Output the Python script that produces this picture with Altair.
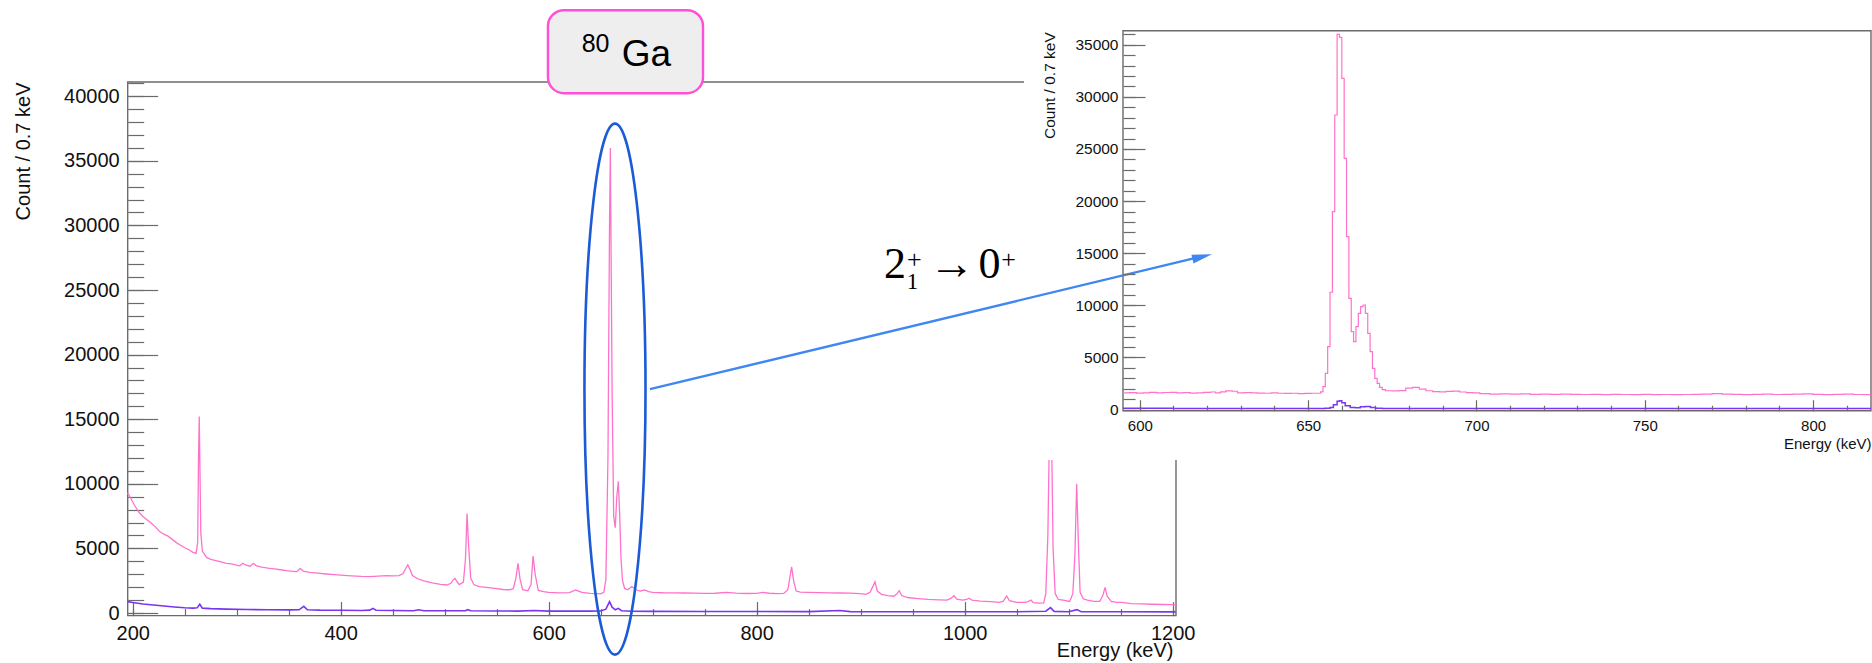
import altair as alt
import pandas as pd

# ---------------------------------------------------------------
# 80Ga gamma-ray spectrum: counts per 0.7 keV vs. energy (keV)
# ---------------------------------------------------------------

# Full range, total spectrum (pink)
main_pink_e = [195, 198, 202, 206, 210, 214, 218, 222, 226, 230, 234, 238, 242, 246, 250,
               254, 258, 261, 262.5, 263.3, 264, 264.7, 265.5, 267, 271, 275, 280, 285, 290,
               295, 300, 303, 306, 309, 313, 316, 319, 324, 330, 336, 342, 348, 354, 358,
               361, 364, 370, 378, 386, 394, 400, 410, 420, 428, 436, 444, 450, 456, 460,
               462.5, 464.5, 466.5, 469, 474, 480, 488, 496, 502, 506, 508, 510, 512, 514,
               518, 520, 521.5, 523, 525, 528, 533, 540, 548, 556, 562, 566, 568.5, 570.5,
               572.5, 575, 580, 583, 585, 587, 590, 595, 600, 610, 620, 626, 632, 640, 646,
               650, 653, 655, 657, 658.5, 659.3, 660, 661, 662.5, 664, 665.5, 667, 668.3,
               669.5, 671, 673, 676, 680, 684, 688, 692, 696, 700, 710, 720, 730, 740, 750,
               760, 771, 780, 790, 800, 806, 812, 820, 826, 830, 832, 833.6, 835.5, 838, 842,
               850, 860, 870, 880, 890, 899, 905, 909, 912, 913.8, 916, 920, 926, 932, 935,
               937, 939.5, 945, 955, 965, 975, 983, 987, 989.7, 992.5, 998, 1002, 1004, 1007,
               1015, 1025, 1033, 1037, 1040.4, 1043, 1050, 1058, 1061, 1063.8, 1066, 1072,
               1076, 1078, 1080, 1081.5, 1082.5, 1083.5, 1085, 1087, 1090, 1096, 1101, 1104,
               1106, 1107.7, 1109.5, 1111, 1114, 1118, 1124, 1130, 1133, 1135, 1137, 1141,
               1146, 1151, 1155, 1160, 1170, 1180, 1190, 1200, 1203]
main_pink_c = [9300, 8900, 8300, 7800, 7450, 7200, 6950, 6650, 6300, 6100, 5950, 5700, 5450,
               5250, 5050, 4900, 4700, 4620, 5500, 12000, 15200, 11000, 6200, 4800, 4300, 4150,
               4050, 3950, 3850, 3800, 3700, 3650, 3850, 3700, 3620, 3850, 3650, 3560, 3480,
               3420, 3350, 3280, 3230, 3200, 3450, 3250, 3150, 3080, 3020, 2970, 2940, 2880,
               2830, 2810, 2850, 2900, 2880, 2900, 3050, 3450, 3720, 3400, 2900, 2650, 2480,
               2330, 2220, 2170, 2300, 2550, 2680, 2400, 2200, 2400, 4200, 7700, 5200, 2700,
               2200, 2050, 1980, 1900, 1820, 1800, 1880, 2700, 3840, 2600, 1800, 1720, 2200,
               4400, 3000, 1750, 1650, 1600, 1560, 1580, 1780, 1600, 1520, 1500, 1480, 1600,
               2600, 12000, 30000, 36000, 28000, 17000, 7500, 6600, 9000, 10200, 7500, 4300,
               2500, 1900, 1800, 2050, 1800, 1700, 1780, 1650, 1600, 1570, 1560, 1550, 1540,
               1520, 1530, 1600, 1540, 1510, 1520, 1600, 1530, 1500, 1520, 1800, 2800, 3580,
               2500, 1700, 1620, 1600, 1580, 1560, 1550, 1540, 1500, 1450, 1600, 2100, 2420,
               1700, 1450, 1350, 1300, 1500, 1725, 1350, 1200, 1120, 1050, 1020, 1000, 1150,
               1340, 1080, 1000, 1050, 1140, 1000, 920, 880, 830, 900, 1315, 950, 820, 820,
               880, 1006, 800, 760, 780, 1500, 6000, 14000, 19000, 14000, 5000, 1500, 1050,
               980, 900, 1500, 4500, 10000, 5000, 1600, 1100, 1000, 900, 900, 1400, 1990,
               1300, 900, 820, 830, 780, 720, 700, 680, 660, 650, 640]

# Full range, second spectrum (purple)
main_purple_e = [195, 200, 210, 220, 230, 240, 250, 258, 262, 264.5, 267, 275, 290, 310, 330,
                 350, 360, 364.5, 368, 380, 400, 420, 428, 431, 434, 450, 470, 475, 480, 500,
                 520, 522, 525, 550, 570, 586, 600, 620, 640, 650, 655, 658.5, 661, 664, 667,
                 670, 680, 700, 750, 800, 850, 880, 890, 950, 1000, 1050, 1078, 1082.5, 1086,
                 1100, 1108, 1112, 1150, 1203]
main_purple_c = [880, 820, 700, 620, 540, 470, 410, 380, 400, 680, 380, 340, 300, 270, 250,
                 240, 250, 520, 250, 220, 210, 200, 220, 360, 210, 190, 180, 250, 180, 170,
                 170, 260, 170, 160, 150, 190, 150, 150, 150, 160, 300, 880, 450, 250, 360,
                 180, 140, 130, 120, 115, 110, 200, 110, 100, 100, 100, 140, 420, 130, 100,
                 260, 100, 100, 90]

# Zoom on the 2+ -> 0+ transition (pink, histogram bins)
inset_pink_e = [595, 597, 599, 601, 603, 605, 607, 609, 611, 613, 615, 617, 619, 621, 622.5,
                624, 625.5, 627.5, 629, 631, 633, 635, 637, 639, 641, 643, 645, 647, 649, 651,
                653.0, 653.7, 654.4, 655.1, 655.8, 656.5, 657.2, 657.9, 658.6, 659.3, 660.0,
                660.7, 661.4, 662.1, 662.8, 663.5, 664.2, 664.9, 665.6, 666.3, 667.0, 667.7,
                668.4, 669.1, 669.8, 670.5, 671.2, 672.0, 673, 675, 677, 679, 681, 683, 685,
                687, 689, 691, 693, 695, 697, 699, 701, 704, 707, 710, 713, 716, 719, 722, 725,
                728, 731, 734, 737, 740, 743, 746, 749, 752, 755, 758, 761, 764, 767, 770, 773,
                776, 779, 782, 785, 788, 791, 794, 797, 800, 803, 806, 809, 812, 815, 817.2]
inset_pink_c = [1600, 1620, 1580, 1600, 1650, 1600, 1630, 1650, 1600, 1620, 1580, 1600, 1640,
                1680, 1600, 1700, 1780, 1750, 1600, 1620, 1600, 1580, 1560, 1600, 1560, 1540,
                1560, 1520, 1550, 1560, 1560, 1700, 2200, 3470, 6030, 11250, 18980, 28260,
                36000, 35700, 31780, 24100, 16590, 10670, 7470, 6510, 7950, 9230, 9870, 10030,
                9230, 7310, 5550, 3950, 2990, 2510, 2130, 1900, 1800, 1780, 1820, 2050, 2130,
                1950, 1800, 1720, 1700, 1740, 1760, 1680, 1620, 1600, 1520, 1480, 1500, 1470,
                1490, 1460, 1480, 1450, 1470, 1450, 1440, 1460, 1430, 1450, 1440, 1420, 1450,
                1430, 1440, 1420, 1440, 1450, 1480, 1520, 1480, 1450, 1430, 1450, 1470, 1440,
                1460, 1480, 1500, 1460, 1430, 1450, 1480, 1440, 1430, 1430]

# Zoom on the 2+ -> 0+ transition (purple, histogram bins)
inset_purple_e = [595, 610, 630, 645, 655, 656.5, 657.5, 658.6, 659.3, 660.0, 661, 662.5, 664,
                  665.5, 667, 668.5, 670, 672, 690, 720, 760, 800, 817.2]
inset_purple_c = [110, 100, 105, 100, 110, 200, 450, 800, 850, 650, 350, 200, 180, 260, 280,
                  200, 120, 100, 100, 95, 95, 90, 90]

# Axis tick values
main_x_major = [200, 400, 600, 800, 1000, 1200]
main_x_minor = list(range(200, 1201, 50))
main_y_major = list(range(0, 40001, 5000))
main_y_minor = list(range(0, 41001, 1000))
inset_x_major = [600, 650, 700, 750, 800]
inset_x_minor = list(range(600, 811, 10))
inset_y_major = list(range(0, 35001, 5000))
inset_y_minor = list(range(0, 36001, 1000))

# ---------------------------------------------------------------
# Page geometry (pixels) of the two frames
# ---------------------------------------------------------------
W, H = 1872, 663
MAIN_XD, MAIN_XR = [195.2, 1203.2], [127.7, 1176]
MAIN_YD, MAIN_YR = [-200, 41100], [615.6, 82]
INS_XD, INS_XR = [595, 817.2], [1123, 1871]
INS_YD, INS_YR = [-115, 36350], [410.7, 30.7]

SANS = "Liberation Sans, Arial, Helvetica, sans-serif"
SERIF = "Liberation Serif, DejaVu Serif, serif"
GRAY = "#6b6b6b"
PINK = "#ff72cc"
PURPLE = "#7b35f0"
INK = "#111111"


def sc(dom, rng):
    return alt.Scale(domain=dom, range=rng, nice=False, zero=False)


def main_x(field, axis=None):
    if axis is None:
        return alt.X(field, type="quantitative", scale=sc(MAIN_XD, MAIN_XR), axis=None)
    return alt.X(field, type="quantitative", scale=sc(MAIN_XD, MAIN_XR), axis=axis)


def main_y(field, axis=None):
    if axis is None:
        return alt.Y(field, type="quantitative", scale=sc(MAIN_YD, MAIN_YR), axis=None)
    return alt.Y(field, type="quantitative", scale=sc(MAIN_YD, MAIN_YR), axis=axis)


def ins_x(field, axis=None):
    if axis is None:
        return alt.X(field, type="quantitative", scale=sc(INS_XD, INS_XR), axis=None)
    return alt.X(field, type="quantitative", scale=sc(INS_XD, INS_XR), axis=axis)


def ins_y(field, axis=None):
    if axis is None:
        return alt.Y(field, type="quantitative", scale=sc(INS_YD, INS_YR), axis=None)
    return alt.Y(field, type="quantitative", scale=sc(INS_YD, INS_YR), axis=axis)


def label_axis(orient, offset, values, size, pad, title, title_x, title_y, angle, align,
               baseline, z):
    return alt.Axis(orient=orient, offset=offset, values=values, ticks=False, domain=False,
                    grid=False, labelPadding=pad, labelFontSize=size, labelFont=SANS,
                    labelColor=INK, labelFlush=False, labelOverlap=False, format="d",
                    title=title, titleX=title_x, titleY=title_y, titleAngle=angle,
                    titleAlign=align, titleBaseline=baseline, titleFontSize=size,
                    titleFont=SANS, titleFontWeight="normal", titleColor=INK, zindex=z)


def tick_axis(orient, offset, values, length, z):
    return alt.Axis(orient=orient, offset=offset, values=values, labels=False, domain=False,
                    grid=False, tickSize=length, tickColor=GRAY, tickWidth=1.2, title=None,
                    zindex=z)


# ---------------------------------------------------------------
# Main panel
# ---------------------------------------------------------------
main_pink = pd.DataFrame({"e": main_pink_e, "c": main_pink_c})
main_purple = pd.DataFrame({"e": main_purple_e, "c": main_purple_c})
main_box = pd.DataFrame({"x0": [MAIN_XD[0]], "x1": [MAIN_XD[1]],
                         "y0": [MAIN_YD[0]], "y1": [MAIN_YD[1]]})

main_frame = alt.Chart(main_box).mark_rect(fillOpacity=0, stroke=GRAY, strokeWidth=1.4).encode(
    x=main_x("x0", label_axis("bottom", MAIN_YR[0] - H, main_x_major, 20, 8, "Energy (keV)",
                              1173, 41, 0, "right", "alphabetic", 0)),
    x2="x1:Q",
    y=main_y("y0", label_axis("left", -MAIN_XR[0], main_y_major, 20, 8.5, "Count / 0.7 keV",
                              23 - MAIN_XR[0], 82, 270, "right", "middle", 0)),
    y2="y1:Q",
)

main_pink_line = alt.Chart(main_pink).mark_line(color=PINK, strokeWidth=1.3).encode(
    x=main_x("e", tick_axis("top", -MAIN_YR[0], main_x_major, 14, 0)),
    y=main_y("c", tick_axis("right", MAIN_XR[0] - W, main_y_major, 30, 0)),
    order="e:Q",
)

main_purple_line = alt.Chart(main_purple).mark_line(color=PURPLE, strokeWidth=1.6).encode(
    x=main_x("e", tick_axis("top", -MAIN_YR[0], main_x_minor, 7, 0)),
    y=main_y("c", tick_axis("right", MAIN_XR[0] - W, main_y_minor, 16, 0)),
    order="e:Q",
)

# Ellipse around the 659 keV line
ellipse_df = pd.DataFrame({"e": [663.75], "c": [17330]})
ellipse = alt.Chart(ellipse_df).mark_point(
    shape="M0,-1 A0.115,1 0 1,1 0,1 A0.115,1 0 1,1 0,-1 Z",
    size=282000, filled=False, stroke="#1b5bd6", strokeWidth=2.6, opacity=1,
).encode(x=main_x("e"), y=main_y("c"))

# ---------------------------------------------------------------
# Inset panel
# ---------------------------------------------------------------
inset_pink = pd.DataFrame({"e": inset_pink_e, "c": inset_pink_c})
inset_purple = pd.DataFrame({"e": inset_purple_e, "c": inset_purple_c})
inset_bg_df = pd.DataFrame({"x0": [565.6], "x1": [817.5], "y0": [-4850], "y1": [39300]})
inset_box = pd.DataFrame({"x0": [INS_XD[0]], "x1": [INS_XD[1]],
                          "y0": [INS_YD[0]], "y1": [INS_YD[1]]})

inset_bg = alt.Chart(inset_bg_df).mark_rect(fill="white").encode(
    x=ins_x("x0"), x2="x1:Q", y=ins_y("y0"), y2="y1:Q")

inset_frame = alt.Chart(inset_box).mark_rect(fillOpacity=0, stroke=GRAY, strokeWidth=1.4).encode(
    x=ins_x("x0", label_axis("bottom", INS_YR[0] - H, inset_x_major, 15, 8, "Energy (keV)",
                             1871, 38, 0, "right", "alphabetic", 1)),
    x2="x1:Q",
    y=ins_y("y0", label_axis("left", -INS_XR[0], inset_y_major, 15.5, 5, "Count / 0.7 keV",
                             1049 - INS_XR[0], 31.7, 270, "right", "middle", 1)),
    y2="y1:Q",
)

inset_pink_line = alt.Chart(inset_pink).mark_line(
    color=PINK, strokeWidth=1.2, interpolate="step-after").encode(
    x=ins_x("e", tick_axis("top", -INS_YR[0], inset_x_major, 11, 1)),
    y=ins_y("c", tick_axis("right", INS_XR[0] - W, inset_y_major, 22, 1)),
    order="e:Q",
)

inset_purple_line = alt.Chart(inset_purple).mark_line(
    color=PURPLE, strokeWidth=1.5, interpolate="step-after").encode(
    x=ins_x("e", tick_axis("top", -INS_YR[0], inset_x_minor, 5.5, 1)),
    y=ins_y("c", tick_axis("right", INS_XR[0] - W, inset_y_minor, 12, 1)),
    order="e:Q",
)

# ---------------------------------------------------------------
# Annotations (placed in the main panel's energy / count units)
# ---------------------------------------------------------------
arrow_df = pd.DataFrame({"e0": [697.4], "c0": [17330], "e1": [1228.2], "c1": [27600]})
arrow_line = alt.Chart(arrow_df).mark_rule(color="#3e87f2", strokeWidth=2.4).encode(
    x=main_x("e0"), y=main_y("c0"), x2="e1:Q", y2="c1:Q")

head_df = pd.DataFrame({"e": [1228.4], "c": [27580]})
arrow_head = alt.Chart(head_df).mark_point(
    shape="M-1,-0.45 L1,0 L-1,0.45 Z", size=400, filled=True, color="#3e87f2",
    opacity=1, angle=346.5,
).encode(x=main_x("e"), y=main_y("c"))

tag_df = pd.DataFrame({"x0": [599.3], "x1": [748.4], "y0": [40232], "y1": [46654]})
tag_box = alt.Chart(tag_df).mark_rect(
    fill="#eeeeee", stroke="#ff4fd8", strokeWidth=2.4, cornerRadius=16,
).encode(x=main_x("x0"), x2="x1:Q", y=main_y("y0"), y2="y1:Q")


def label(text, e, c, size, font, align="left", baseline="alphabetic"):
    df = pd.DataFrame({"e": [e], "c": [c], "t": [text]})
    return alt.Chart(df).mark_text(
        fontSize=size, font=font, color="black", align=align, baseline=baseline,
    ).encode(x=main_x("e"), y=main_y("c"), text="t:N")


tag_mass = label("80", 631.7, 43450, 25, SANS)
tag_elem = label("Ga", 670.2, 42321, 37, SANS)

trans_two = label("2", 933.0, 25920, 44, SERIF, align="center")
trans_sup1 = label("+", 951.7, 27310, 26, SERIF, align="center", baseline="middle")
trans_sub = label("1", 949.8, 25070, 23, SERIF, align="center")
trans_arrow = label("\u2192", 987.8, 26925, 46, SERIF, align="center", baseline="middle")
trans_zero = label("0", 1023.9, 25920, 44, SERIF, align="center")
trans_sup2 = label("+", 1042.1, 27310, 26, SERIF, align="center", baseline="middle")

chart = alt.layer(
    main_frame, main_pink_line, main_purple_line, ellipse,
    inset_bg, inset_frame, inset_pink_line, inset_purple_line,
    arrow_line, arrow_head, tag_box, tag_mass, tag_elem,
    trans_two, trans_sup1, trans_sub, trans_arrow, trans_zero, trans_sup2,
).resolve_scale(
    x="independent", y="independent"
).resolve_axis(
    x="independent", y="independent"
).properties(
    width=W, height=H, padding=0, autosize=alt.AutoSizeParams(type="none"),
    background="white",
).configure_view(stroke="transparent")

chart.save("out.html", embed_options={"renderer": "svg", "actions": False})
